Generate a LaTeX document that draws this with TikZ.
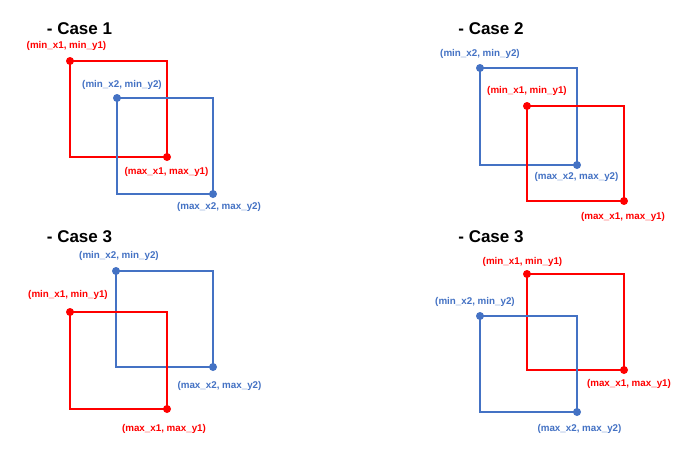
\documentclass[tikz,border=0pt]{standalone}
\usepackage{fontspec}
\setmainfont{Liberation Sans}
\definecolor{cred}{HTML}{FF0000}
\definecolor{cblue}{HTML}{4472C4}
\begin{document}
\begin{tikzpicture}[x=1pt,y=-1pt,
  redbox/.style={draw=cred,line width=2pt},
  bluebox/.style={draw=cblue,line width=2pt},
  reddot/.style={circle,fill=cred,inner sep=0pt,minimum size=8pt},
  bluedot/.style={circle,fill=cblue,inner sep=0pt,minimum size=8pt},
  redlbl/.style={text=cred,font=\bfseries\fontsize{9.8}{11}\selectfont,inner sep=0pt},
  bluelbl/.style={text=cblue,font=\bfseries\fontsize{9.8}{11}\selectfont,inner sep=0pt},
  title/.style={font=\bfseries\fontsize{17}{20}\selectfont,inner sep=0pt}]
\useasboundingbox[fill=white] (0,0) rectangle (691,455);

% ---------- Case 1 ----------
\node[title] (t1) at (79.5,29) {- Case 1};
\coordinate (a1) at (70,61);  \coordinate (b1) at (167,157);
\coordinate (c1) at (117,98); \coordinate (d1) at (213,194);
\draw[redbox] (a1) rectangle (b1);
\draw[bluebox] (c1) rectangle (d1);
\node[reddot] (pa1) at (a1) {};
\node[reddot] (pb1) at (b1) {};
\node[bluedot] (pc1) at (c1) {};
\node[bluedot] (pd1) at (d1) {};
\node[redlbl] (la1) at (66.5,46) {(min\_x1, min\_y1)};
\node[bluelbl] (lc1) at (122,85) {(min\_x2, min\_y2)};
\node[redlbl] (lb1) at (166.5,172) {(max\_x1, max\_y1)};
\node[bluelbl] (ld1) at (219,207) {(max\_x2, max\_y2)};

% ---------- Case 2 ----------
\node[title] (t2) at (491,29) {- Case 2};
\coordinate (c2) at (480,68);  \coordinate (d2) at (577,165);
\coordinate (a2) at (527,106); \coordinate (b2) at (624,201);
\draw[bluebox] (c2) rectangle (d2);
\draw[redbox] (a2) rectangle (b2);
\node[bluedot] (pc2) at (c2) {};
\node[bluedot] (pd2) at (d2) {};
\node[reddot] (pa2) at (a2) {};
\node[reddot] (pb2) at (b2) {};
\node[bluelbl] (lc2) at (480,54) {(min\_x2, min\_y2)};
\node[redlbl] (la2) at (527,91) {(min\_x1, min\_y1)};
\node[bluelbl] (ld2) at (576.5,177) {(max\_x2, max\_y2)};
\node[redlbl] (lb2) at (623,217) {(max\_x1, max\_y1)};

% ---------- Case 3 (left) ----------
\node[title] (t3) at (79.5,237) {- Case 3};
\coordinate (c3) at (116,271); \coordinate (d3) at (213,367);
\coordinate (a3) at (70,312);  \coordinate (b3) at (167,409);
\draw[bluebox] (c3) rectangle (d3);
\draw[redbox] (a3) rectangle (b3);
\node[bluedot] (pc3) at (c3) {};
\node[bluedot] (pd3) at (d3) {};
\node[reddot] (pa3) at (a3) {};
\node[reddot] (pb3) at (b3) {};
\node[bluelbl] (lc3) at (119,256) {(min\_x2, min\_y2)};
\node[redlbl] (la3) at (68,295) {(min\_x1, min\_y1)};
\node[bluelbl] (ld3) at (219.5,386) {(max\_x2, max\_y2)};
\node[redlbl] (lb3) at (164,429) {(max\_x1, max\_y1)};

% ---------- Case 3 (right) ----------
\node[title] (t4) at (491,237) {- Case 3};
\coordinate (a4) at (527,274); \coordinate (b4) at (624,370);
\coordinate (c4) at (480,316); \coordinate (d4) at (577,412);
\draw[redbox] (a4) rectangle (b4);
\draw[bluebox] (c4) rectangle (d4);
\node[reddot] (pa4) at (a4) {};
\node[reddot] (pb4) at (b4) {};
\node[bluedot] (pc4) at (c4) {};
\node[bluedot] (pd4) at (d4) {};
\node[redlbl] (la4) at (522.5,262) {(min\_x1, min\_y1)};
\node[bluelbl] (lc4) at (475,302) {(min\_x2, min\_y2)};
\node[redlbl] (lb4) at (629,384) {(max\_x1, max\_y1)};
\node[bluelbl] (ld4) at (579.5,429) {(max\_x2, max\_y2)};
\end{tikzpicture}
\end{document}
